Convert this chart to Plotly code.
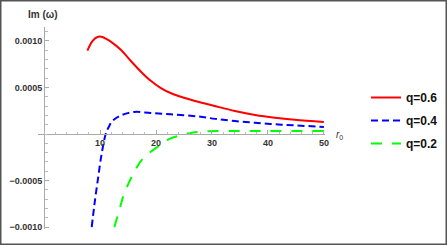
import plotly.graph_objects as go

# q = 0.6 (red, solid)
r_q06 = [7.73, 8.63, 9.52, 10.4, 11.1, 11.9, 13.7, 15.5, 17.3, 19.05, 20.8, 22.6, 25.0,
         27.0, 28.4, 30.5, 34.1, 37.7, 41.25, 44.8, 50.0]
im_q06 = [0.000896, 0.000997, 0.001043, 0.001043, 0.001022, 0.000993, 0.000906,
          0.000785, 0.00067, 0.000572, 0.000497, 0.000441, 0.00039, 0.000355,
          0.000333, 0.000301, 0.000248, 0.000205, 0.000175, 0.000153, 0.00013]

# q = 0.4 (blue, short dash)
r_q04 = [8.5, 9.0, 9.6, 10.2, 11.0, 11.5, 12.2, 13.7, 16.1, 19.05, 22.6, 27.6, 30.6,
         34.1, 37.7, 41.25, 44.8, 50.0]
im_q04 = [-0.00100, -0.00075, -0.00049, -0.00024, 0.0, 0.00007, 0.00014, 0.00020,
          0.000237, 0.000226, 0.000213, 0.000188, 0.000163, 0.00014, 0.000121,
          0.000105, 0.000093, 0.000077]

# q = 0.2 (green, long dash)
r_q02 = [12.55, 13.6, 14.3, 15.4, 16.25, 17.7, 20.7, 22.5, 24.6, 26.4, 29.0, 35.0,
         40.0, 50.0]
im_q02 = [-0.001, -0.00078, -0.00064, -0.00049, -0.00039, -0.00026, -0.00012,
          -0.00005, -0.00001, 0.000015, 0.00003, 0.000032, 0.000032, 0.000032]

x_ticks = [10, 20, 30, 40, 50]
y_ticks = [-0.001, -0.0005, 0.0005, 0.001]

series = [
    ("q=0.6", r_q06, im_q06, "#ff0000", "solid"),
    ("q=0.4", r_q04, im_q04, "#0000ff", "7px,4px"),
    ("q=0.2", r_q02, im_q02, "#00ff00", "11px,10px"),
]

fig = go.Figure()
for name, xs, ys, color, dash in series:
    fig.add_trace(go.Scatter(
        x=xs, y=ys, mode="lines", name=name, legendgroup=name,
        line=dict(color=color, width=2, dash=dash, shape="spline", smoothing=1.0),
    ))

W, H = 447, 245
L, R, T, B = 38, 122, 27, 16
pw, ph = W - L - R, H - T - B
xr = [-1.1, 50.2]
yr = [-0.00102, 0.00115]

tickfont = dict(family="Arial", size=9, color="#333333", weight="bold")

fig.update_layout(
    width=W, height=H,
    margin=dict(l=L, r=R, t=T, b=B, autoexpand=False),
    paper_bgcolor="white", plot_bgcolor="white",
    showlegend=True,
    legend=dict(
        x=(366 - L) / pw, y=(229 - 83) / ph, xanchor="left", yanchor="top",
        font=dict(family="Arial", size=12, color="#111111", weight="bold"),
        tracegroupgap=4, bgcolor="rgba(0,0,0,0)",
    ),
    xaxis=dict(
        range=xr, anchor="free", position=(0 - yr[0]) / (yr[1] - yr[0]),
        showgrid=False, zeroline=False, showline=True, linecolor="#aaaaaa", linewidth=1,
        tickmode="array", tickvals=x_ticks, ticks="inside", ticklen=4, tickcolor="#aaaaaa",
        tickfont=tickfont,
        minor=dict(tickmode="linear", tick0=0, dtick=2, ticks="inside", ticklen=2.5,
                   tickcolor="#bbbbbb"),
    ),
    yaxis=dict(
        range=yr, anchor="free", position=(0 - xr[0]) / (xr[1] - xr[0]),
        showgrid=False, zeroline=False, showline=True, linecolor="#aaaaaa", linewidth=1,
        tickmode="array", tickvals=y_ticks, tickformat=".4f", ticks="inside", ticklen=4,
        tickcolor="#aaaaaa", tickfont=tickfont,
        minor=dict(tickmode="linear", tick0=0, dtick=0.0001, ticks="inside", ticklen=2.5,
                   tickcolor="#bbbbbb"),
    ),
    annotations=[
        dict(text="<b>Im (ω)</b>", x=(43 - L) / pw, y=(229 - 15) / ph, xref="paper",
             yref="paper", showarrow=False, xanchor="center", yanchor="middle",
             font=dict(family="Arial", size=10, color="#333333")),
        dict(text="<i>r</i><sub>0</sub>", x=(334 - L) / pw, y=(229 - 135) / ph,
             xref="paper", yref="paper", showarrow=False, xanchor="left",
             yanchor="middle", font=dict(family="Arial", size=10, color="#333333")),
    ],
    shapes=[
        dict(type="rect", xref="paper", yref="paper",
             x0=(0.75 - L) / pw, x1=(W - 0.75 - L) / pw,
             y0=(229 - (H - 0.75)) / ph, y1=(229 - 0.75) / ph,
             line=dict(color="#555555", width=1.5), fillcolor="rgba(0,0,0,0)",
             layer="above"),
    ],
)

fig.write_html("out.html", config={"displayModeBar": False},
               post_script="document.body.style.margin='0';document.body.style.overflow='hidden';")
